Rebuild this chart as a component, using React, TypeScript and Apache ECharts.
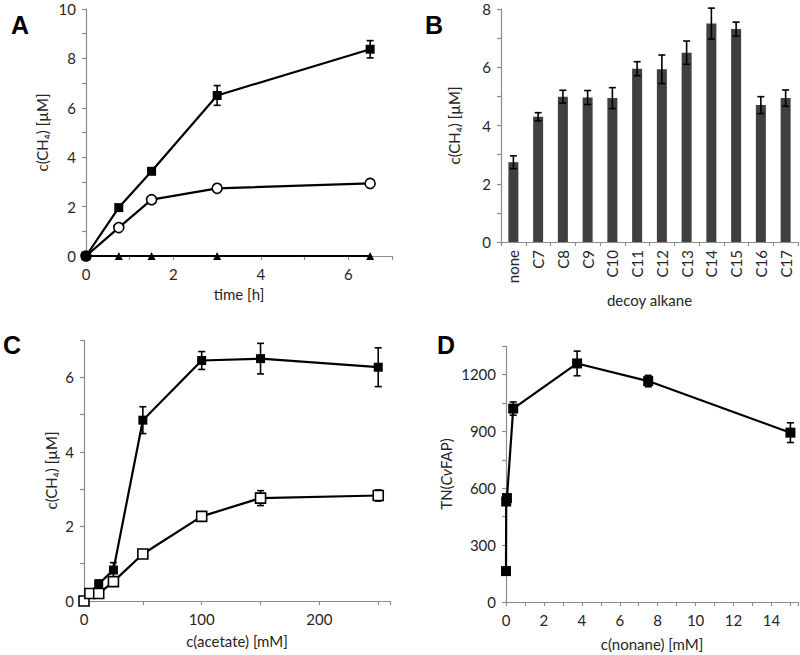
import React, { useEffect, useRef } from "react";
import * as echarts from "echarts";

// ---------- Panel A ----------
const aTime = [0, 0.75, 1.5, 3, 6.5];
const aFilled = [0, 1.96, 3.43, 6.5, 8.37];
const aFilledErr = [0, 0.08, 0.08, 0.4, 0.35];
const aOpen = [0, 1.15, 2.28, 2.74, 2.94];
const aOpenErr = [0, 0.08, 0.1, 0.15, 0.12];
const aTriangle = [0, 0, 0, 0, 0];

// ---------- Panel B ----------
const bCategories = ["none", "C7", "C8", "C9", "C10", "C11", "C12", "C13", "C14", "C15", "C16", "C17"];
const bValues = [2.74, 4.3, 4.99, 4.96, 4.94, 5.95, 5.93, 6.5, 7.5, 7.31, 4.7, 4.94];
const bErr = [0.22, 0.14, 0.22, 0.24, 0.36, 0.24, 0.49, 0.4, 0.53, 0.24, 0.29, 0.28];

// ---------- Panel C ----------
const cConc = [0, 5, 12.5, 25, 50, 100, 150, 250];
const cFilled = [0, 0.2, 0.46, 0.83, 4.85, 6.45, 6.5, 6.27];
const cFilledErr = [0, 0, 0.1, 0.2, 0.36, 0.24, 0.41, 0.52];
const cOpen = [0, 0.2, 0.2, 0.52, 1.26, 2.27, 2.76, 2.83];
const cOpenErr = [0, 0, 0, 0.04, 0.04, 0.06, 0.2, 0.15];

// ---------- Panel D ----------
const dNonane = [0, 0.01, 0.05, 0.38, 3.75, 7.5, 15];
const dTN = [163, 530, 548, 1020, 1258, 1165, 893];
const dTNErr = [0, 0, 0, 35, 65, 30, 52];

const FONT = "Lato";
const TXT = "#262626";
const AX = "#8c8c8c";

function errRender(params: any, api: any) {
  const x = api.value(0);
  const lo = api.value(1);
  const hi = api.value(2);
  if (!(hi - lo > 0)) return { type: "group", children: [] };
  const t = api.coord([x, hi]);
  const b = api.coord([x, lo]);
  const w = 3.5;
  const style = { stroke: "#000", lineWidth: 1.6 };
  return {
    type: "group",
    children: [
      { type: "line", shape: { x1: t[0], y1: t[1], x2: b[0], y2: b[1] }, style },
      { type: "line", shape: { x1: t[0] - w, y1: t[1], x2: t[0] + w, y2: t[1] }, style },
      { type: "line", shape: { x1: b[0] - w, y1: b[1], x2: b[0] + w, y2: b[1] }, style },
    ],
  };
}

function errData(xs: any[], ys: number[], es: number[]) {
  return ys.map((y, i) => [xs[i], y - es[i], y + es[i]]);
}

function valueAxis(gridIndex: number, min: number, max: number, interval: number, labelEvery: number, extra: any = {}) {
  return {
    type: "value",
    gridIndex,
    min,
    max,
    interval,
    splitLine: { show: false },
    axisLine: { show: true, onZero: false, lineStyle: { color: AX, width: 1.2 } },
    axisTick: { show: true, length: 4, lineStyle: { color: AX, width: 1.2 } },
    axisLabel: {
      color: TXT,
      fontFamily: FONT,
      fontSize: 15,
      margin: 10,
      formatter: (v: number) => {
        const r = v / labelEvery;
        return Math.abs(r - Math.round(r)) < 1e-6 ? String(v) : "";
      },
    },
    nameTextStyle: { color: TXT, fontFamily: FONT, fontSize: 15 },
    nameLocation: "middle",
    ...extra,
  };
}

function lineSeries(xi: number, xs: number[], ys: number[], symbol: string, size: number, filled: boolean, extraData?: (i: number) => any) {
  return {
    type: "line",
    xAxisIndex: xi,
    yAxisIndex: xi,
    data: ys.map((y, i) => {
      const d: any = { value: [xs[i], y] };
      if (extraData) {
        const e = extraData(i);
        if (e) d.itemStyle = e;
      }
      return d;
    }),
    symbol,
    symbolSize: size,
    showAllSymbol: true,
    lineStyle: { color: "#000", width: 2.2 },
    itemStyle: { color: filled ? "#000" : "#fff", borderColor: "#000", borderWidth: filled ? 0 : 1.6 },
    z: 3,
  };
}

function errSeries(xi: number, data: any[], z = 2) {
  return {
    type: "custom",
    xAxisIndex: xi,
    yAxisIndex: xi,
    renderItem: errRender,
    encode: { x: 0, y: [1, 2] },
    data,
    z,
  };
}

export default function App() {
  const ref = useRef<HTMLDivElement>(null);
  useEffect(() => {
    if (!ref.current) return;
    const chart = echarts.init(ref.current, null, { renderer: "svg" });
    const option: any = {
      animation: false,
      backgroundColor: "#fff",
      grid: [
        { left: 86, top: 9, width: 306, height: 247, outerBoundsMode: "none" },
        { left: 501, top: 9, width: 297, height: 233, outerBoundsMode: "none" },
        { left: 84, top: 340, width: 306, height: 261, outerBoundsMode: "none" },
        { left: 506, top: 346, width: 292, height: 256, outerBoundsMode: "none" },
      ],
      xAxis: [
        valueAxis(0, 0, 7, 1, 2, { name: "time [h]", nameGap: 30 }),
        {
          type: "category",
          gridIndex: 1,
          data: bCategories,
          name: "decoy alkane",
          nameLocation: "middle",
          nameGap: 50,
          nameTextStyle: { color: TXT, fontFamily: FONT, fontSize: 15 },
          axisLine: { show: true, lineStyle: { color: AX, width: 1.2 } },
          axisTick: { show: true, length: 4, lineStyle: { color: AX, width: 1.2 } },
          axisLabel: { color: TXT, fontFamily: FONT, fontSize: 15, rotate: 90, interval: 0, margin: 8 },
        },
        valueAxis(2, 0, 260, 50, 100, { name: "c(acetate) [mM]", nameGap: 32 }),
        valueAxis(3, 0, 15.4, 1, 2, { name: "c(nonane) [mM]", nameGap: 34 }),
      ],
      yAxis: [
        valueAxis(0, 0, 10, 1, 2, { name: "c(CH₄) [µM]", nameGap: 37 }),
        valueAxis(1, 0, 8, 1, 2, { name: "c(CH₄) [µM]", nameGap: 40 }),
        valueAxis(2, 0, 7, 1, 2, { name: "c(CH₄) [µM]", nameGap: 26 }),
        valueAxis(3, 0, 1350, 150, 300, {
          name: "TN({i|Cv}FAP)",
          nameGap: 53,
          nameTextStyle: {
            color: TXT,
            fontFamily: FONT,
            fontSize: 15,
            rich: { i: { fontStyle: "italic", fontFamily: FONT, fontSize: 15, color: TXT } },
          },
        }),
      ],
      series: [
        // Panel A
        errSeries(0, errData(aTime, aFilled, aFilledErr)),
        errSeries(0, errData(aTime, aOpen, aOpenErr)),
        lineSeries(0, aTime, aOpen, "circle", 10, false, (i) => (i === 0 ? { color: "#000" } : null)),
        lineSeries(0, aTime, aFilled, "rect", 9, true),
        lineSeries(0, aTime, aTriangle, "triangle", 8, true),
        // Panel B
        {
          type: "bar",
          xAxisIndex: 1,
          yAxisIndex: 1,
          data: bValues,
          barWidth: 10,
          itemStyle: { color: "#404040" },
          z: 2,
        },
        errSeries(1, errData(bCategories.map((_, i) => i), bValues, bErr), 4),
        // Panel C
        errSeries(2, errData(cConc, cFilled, cFilledErr)),
        errSeries(2, errData(cConc, cOpen, cOpenErr)),
        lineSeries(2, cConc, cFilled, "rect", 9, true),
        lineSeries(2, cConc, cOpen, "rect", 10, false),
        // Panel D
        errSeries(3, errData(dNonane, dTN, dTNErr)),
        lineSeries(3, dNonane, dTN, "rect", 10, true),
      ],
      graphic: [
        { type: "text", left: 11, top: 12, style: { text: "A", font: "bold 25px 'Liberation Sans'", fill: "#000" } },
        { type: "text", left: 425, top: 12, style: { text: "B", font: "bold 25px 'Liberation Sans'", fill: "#000" } },
        { type: "text", left: 3, top: 332, style: { text: "C", font: "bold 25px 'Liberation Sans'", fill: "#000" } },
        { type: "text", left: 437, top: 332, style: { text: "D", font: "bold 25px 'Liberation Sans'", fill: "#000" } },
      ],
    };
    chart.setOption(option);
    return () => chart.dispose();
  }, []);
  return <div ref={ref} style={{ position: "fixed", left: 0, top: 0, width: 800, height: 655 }} />;
}
